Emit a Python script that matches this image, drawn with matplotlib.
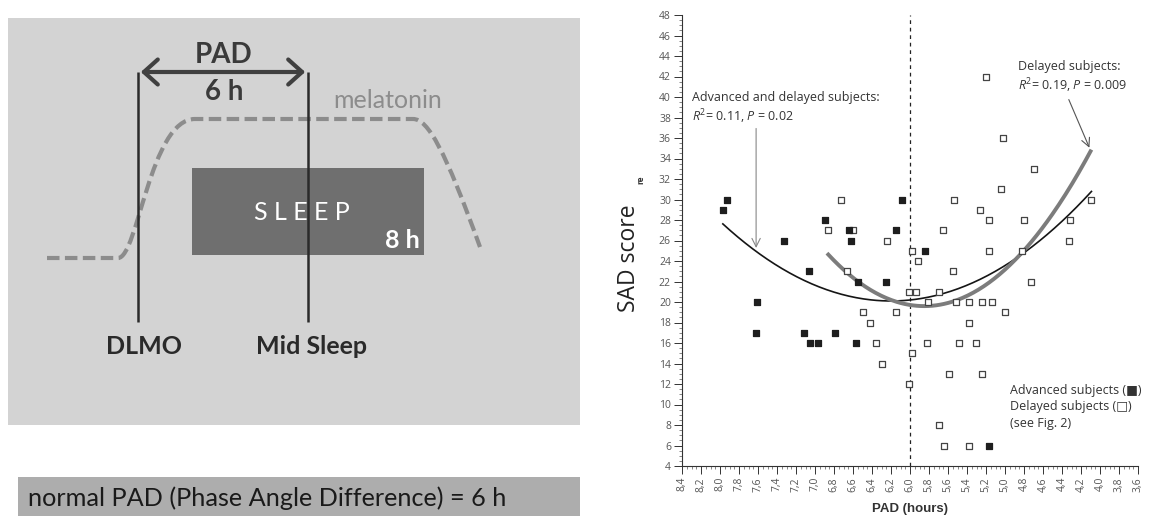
import numpy as np
import matplotlib
matplotlib.use("Agg")
import matplotlib.pyplot as plt
from matplotlib.patches import Rectangle, PathPatch, FancyArrowPatch
from matplotlib.path import Path
from matplotlib.ticker import MultipleLocator, FuncFormatter

# ---------------- data ----------------
adv_pad = [7.97, 7.93, 7.33, 6.89, 6.64, 6.62, 6.15, 6.08, 5.84, 7.06,
           6.55, 6.25, 7.61, 7.62, 7.12, 6.79, 7.05, 6.97, 6.57, 5.17]
adv_sad = [29, 30, 26, 28, 27, 26, 27, 30, 25, 23,
           22, 22, 20, 17, 17, 17, 16, 16, 16, 6]

del_pad = [6.73, 6.86, 6.60, 6.24, 5.98, 5.92, 5.20, 5.02, 4.70, 5.04,
           5.54, 5.26, 5.17, 4.80, 4.32, 4.10, 4.33, 5.65, 5.17, 4.82,
           6.66, 5.55, 4.73, 6.01, 5.94, 5.69, 5.81, 5.52, 5.38, 5.24,
           5.14, 6.49, 6.15, 5.00, 6.42, 5.38, 6.36, 5.82, 5.48, 5.31,
           5.98, 6.30, 5.59, 5.24, 6.01, 5.70, 5.64, 5.38]
del_sad = [30, 27, 27, 26, 25, 24, 42, 36, 33, 31,
           30, 29, 28, 28, 28, 30, 26, 27, 25, 25,
           23, 23, 22, 21, 21, 21, 20, 20, 20, 20,
           20, 19, 19, 19, 18, 18, 16, 16, 16, 16,
           15, 14, 13, 13, 12, 8, 6, 6]

# quadratic fits: y = a * (x - h)^2 + k, drawn over [x_start, x_end]
fit_all = dict(a=2.4, h=6.2, k=20.1, x_start=7.97, x_end=4.09)
fit_delayed = dict(a=4.93, h=5.85, k=19.6, x_start=6.86, x_end=4.10)

normal_pad_hours = 6.0

# ---------------- figure ----------------
W, H, DPI = 1149, 516, 100
fig = plt.figure(figsize=(W / DPI, H / DPI), dpi=DPI, facecolor="white")

mpl_fonts = ["Open Sans", "DejaVu Sans"]
plt.rcParams["mathtext.fontset"] = "custom"
plt.rcParams["mathtext.rm"] = "Open Sans"
plt.rcParams["mathtext.it"] = "Open Sans:italic"

# background canvas in pixel units for the schematic
bg = fig.add_axes([0, 0, 1, 1], zorder=0)
bg.set_xlim(0, W)
bg.set_ylim(H, 0)
bg.axis("off")

slide_font = ["Lato", "DejaVu Sans"]

bg.add_patch(Rectangle((8, 18), 572, 407, facecolor="#d3d3d3", edgecolor="none"))
bg.add_patch(Rectangle((18, 477), 562, 45, facecolor="#adadad", edgecolor="none"))

# sleep block
bg.add_patch(Rectangle((192, 168), 232, 87, facecolor="#6f6f6f", edgecolor="none"))
bg.text(302, 212, "S L E E P", color="white", fontsize=18, family=slide_font,
        ha="center", va="center")
bg.text(420, 240, "8 h", color="white", fontsize=18, fontweight="bold",
        family=slide_font, ha="right", va="center")

# melatonin profile (schematic)
verts = [(47, 258), (118, 258),
         (138, 258), (150, 119), (195, 119),
         (413, 119),
         (428, 119), (445, 150), (480, 247)]
codes = [Path.MOVETO, Path.LINETO,
         Path.CURVE4, Path.CURVE4, Path.CURVE4,
         Path.LINETO,
         Path.CURVE4, Path.CURVE4, Path.CURVE4]
bg.add_patch(PathPatch(Path(verts, codes), facecolor="none", edgecolor="#8c8c8c",
                       lw=3, linestyle=(0, (3, 1.3))))
bg.text(388, 100, "melatonin", color="#8c8c8c", fontsize=18, family=slide_font,
        ha="center", va="center")

# DLMO and mid-sleep markers
for xm in (138, 308):
    bg.plot([xm, xm], [72, 322], color="#2a2a2a", lw=1.8, solid_capstyle="butt")
bg.add_patch(FancyArrowPatch((138, 72), (308, 72),
                             arrowstyle="<->,head_length=0.5,head_width=0.45",
                             mutation_scale=20, color="#404040", lw=3))
bg.text(224, 55, "PAD", color="#3a3a3a", fontsize=20, fontweight="bold",
        family=slide_font, ha="center", va="center")
bg.text(224, 92, "6 h", color="#3a3a3a", fontsize=20, fontweight="bold",
        family=slide_font, ha="center", va="center")
bg.text(144, 347, "DLMO", color="#2a2a2a", fontsize=18, fontweight="bold",
        family=slide_font, ha="center", va="center")
bg.text(312, 347, "Mid Sleep", color="#2a2a2a", fontsize=18, fontweight="bold",
        family=slide_font, ha="center", va="center")

bg.text(28, 498, "normal PAD (Phase Angle Difference) = 6 h", color="#1a1a1a",
        fontsize=18.2, family=slide_font, ha="left", va="center")

# ---------------- scatter plot ----------------
ax = fig.add_axes([682 / W, 1 - 466 / H, 456 / W, 451 / H], zorder=2)
ax.patch.set_alpha(0)
ax.set_xlim(8.4, 3.6)
ax.set_ylim(4, 48)
for s in ("top", "right"):
    ax.spines[s].set_visible(False)
for s in ("left", "bottom"):
    ax.spines[s].set_color("#333333")
    ax.spines[s].set_linewidth(0.8)

ax.xaxis.set_major_locator(MultipleLocator(0.2))
ax.xaxis.set_minor_locator(MultipleLocator(0.05))
ax.yaxis.set_major_locator(MultipleLocator(2))
ax.yaxis.set_minor_locator(MultipleLocator(0.5))
ax.xaxis.set_major_formatter(FuncFormatter(lambda v, p: f"{v:.1f}".replace(".", ",")))
ax.tick_params(axis="both", which="major", direction="out", length=6, width=0.7,
               color="#333333", labelsize=7.5, labelcolor="#555555", pad=2)
ax.tick_params(axis="both", which="minor", direction="out", length=2, width=0.5,
               color="#555555")
ax.tick_params(axis="x", which="major", labelrotation=90)
for lab in ax.get_xticklabels() + ax.get_yticklabels():
    lab.set_family(mpl_fonts)

ax.axvline(normal_pad_hours, color="#222222", lw=0.9, linestyle=(0, (3, 3)))

x_all = np.linspace(fit_all["x_start"], fit_all["x_end"], 200)
ax.plot(x_all, fit_all["a"] * (x_all - fit_all["h"]) ** 2 + fit_all["k"],
        color="#151515", lw=1.2, zorder=3)
x_del = np.linspace(fit_delayed["x_start"], fit_delayed["x_end"], 200)
ax.plot(x_del, fit_delayed["a"] * (x_del - fit_delayed["h"]) ** 2 + fit_delayed["k"],
        color="#7c7c7c", lw=2.8, zorder=4)

ax.scatter(del_pad, del_sad, marker="s", s=22, facecolor="white",
           edgecolor="#444444", linewidths=0.9, zorder=5)
ax.scatter(adv_pad, adv_sad, marker="s", s=22, facecolor="#1e1e1e",
           edgecolor="#1e1e1e", linewidths=0.9, zorder=6)

txt_kw = dict(fontsize=9, color="#333333", family=mpl_fonts, ha="left", va="center")
ax.text(8.295, 40.0, "Advanced and delayed subjects:", **txt_kw)
ax.text(8.295, 38.05, r"$\it{R}^{2}$= 0.11, $\it{P}$ = 0.02", **txt_kw)
ax.annotate("", xy=(7.62, 25.0), xytext=(7.62, 37.2),
            arrowprops=dict(arrowstyle="->,head_length=0.6,head_width=0.3",
                            color="#888888", lw=0.8))

ax.text(4.863, 42.93, "Delayed subjects:", **txt_kw)
ax.text(4.863, 41.07, r"$\it{R}^{2}$= 0.19, $\it{P}$ = 0.009", **txt_kw)
ax.annotate("", xy=(4.10, 34.8), xytext=(4.34, 40.0),
            arrowprops=dict(arrowstyle="->,head_length=0.6,head_width=0.3",
                            color="#555555", lw=0.8), annotation_clip=False)

ax.text(4.947, 11.41, "Advanced subjects (\u25a0)", **txt_kw, clip_on=False)
ax.text(4.947, 9.76, "Delayed subjects (\u25a1)", **txt_kw, clip_on=False)
ax.text(4.947, 8.10, "(see Fig. 2)", **txt_kw, clip_on=False)

# axis titles
bg.text(629, 258, "SAD score", rotation=90, fontsize=16.5, color="#222222",
        family=mpl_fonts, ha="center", va="center")
bg.text(641, 180, "re", rotation=90, fontsize=6, fontweight="bold", color="#333333",
        family=mpl_fonts, ha="center", va="center")
bg.text(910, 509, "PAD (hours)", fontsize=9.5, fontweight="bold", color="#333333",
        family=["Liberation Sans", "DejaVu Sans"], ha="center", va="center")

fig.savefig("out.png", dpi=DPI, facecolor="white")
